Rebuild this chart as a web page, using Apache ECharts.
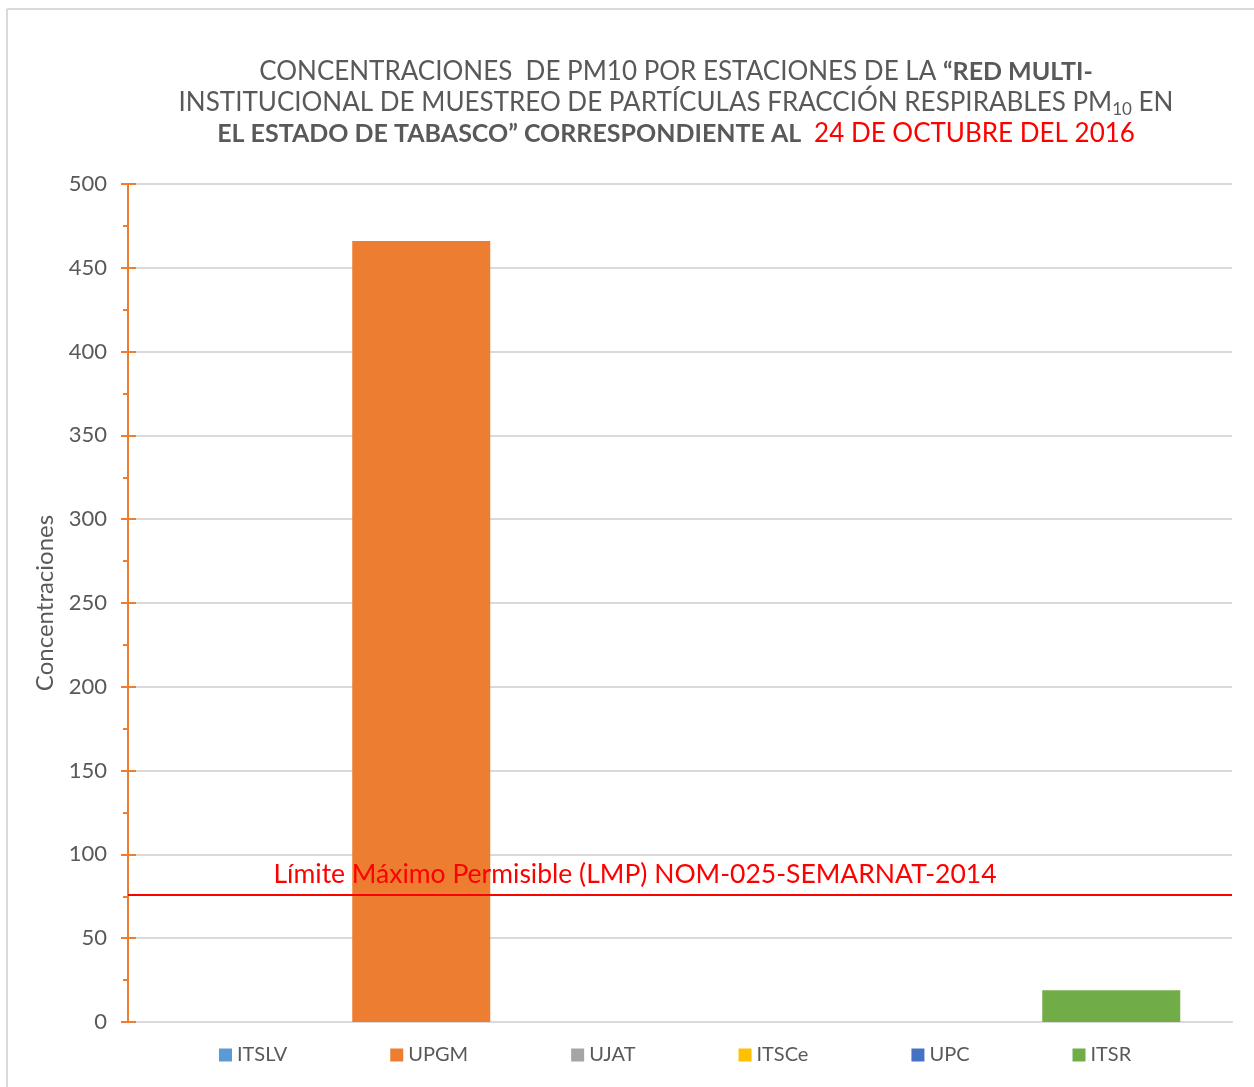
<!DOCTYPE html>
<html>
<head>
<meta charset="utf-8">
<style>
  html, body { margin: 0; padding: 0; background: #fff; }
  #chart { width: 1254px; height: 1087px; }
</style>
<script src="https://cdn.jsdelivr.net/npm/echarts@6/dist/echarts.min.js"></script>
</head>
<body>
<div id="chart"></div>
<script>
// estaciones y concentraciones PM10 (24 oct 2016)
const stations = ['ITSLV', 'UPGM', 'UJAT', 'ITSCe', 'UPC', 'ITSR']
const concentrations = [0, 466, 0, 0, 0, 19]
const stationColors = ['#5B9BD5', '#ED7D31', '#A5A5A5', '#FFC000', '#4472C4', '#70AD47']
const categories = ['24/10/2016']
const yMin = 0
const yMax = 500
const yStep = 50
const lmpValue = 76
const lmpLabel = 'Límite Máximo Permisible (LMP) NOM-025-SEMARNAT-2014'

const chart = echarts.init(document.getElementById('chart'))
const textColor = '#595959'
const font = 'Lato'

const series = stations.map((name, i) => {
  const s = {
    name: name,
    type: 'bar',
    yAxisIndex: 0,
    data: [concentrations[i]],
    barWidth: 138,
    barGap: '25%',
    itemStyle: { color: stationColors[i] },
    animation: false
  }
  if (i === 0) {
    s.markLine = {
      silent: true,
      symbol: 'none',
      lineStyle: { color: '#FF0000', width: 2, type: 'solid' },
      label: {
        show: true,
        position: 'insideMiddleTop',
        formatter: lmpLabel,
        color: '#FF0000',
        fontFamily: font,
        fontSize: 26.5,
        offset: [-45, -2]
      },
      data: [{ yAxis: lmpValue }]
    }
  }
  return s
})

const yBase = {
  type: 'value',
  min: yMin,
  max: yMax,
  interval: yStep,
  position: 'left'
}

chart.setOption({
  backgroundColor: '#fff',
  textStyle: { fontFamily: font },
  title: {
    left: 671,
    textAlign: 'center',
    top: 51,
    text: '{n|CONCENTRACIONES  DE PM10 POR ESTACIONES DE LA }{b|“RED MULTI-}\n' +
      '{n|INSTITUCIONAL DE MUESTREO DE PARTÍCULAS FRACCIÓN RESPIRABLES PM}{s|10}{n| EN}\n' +
      '{b|EL ESTADO DE TABASCO” CORRESPONDIENTE AL }{r| 24 DE OCTUBRE DEL 2016}',
    textStyle: {
      rich: {
        n: { fontFamily: font, fontSize: 26, fontWeight: 'normal', color: textColor, lineHeight: 31 },
        b: { fontFamily: font, fontSize: 25, fontWeight: 'bold', color: textColor, lineHeight: 31 },
        s: { fontFamily: font, fontSize: 17, fontWeight: 'normal', color: textColor, lineHeight: 31, padding: [15, 0, 0, 0] },
        r: { fontFamily: font, fontSize: 26, fontWeight: 'normal', color: '#FF0000', lineHeight: 31 }
      }
    }
  },
  legend: {
    bottom: 17,
    left: 214,
    icon: 'rect',
    itemWidth: 13,
    itemHeight: 13,
    itemGap: 103,
    textStyle: { color: textColor, fontSize: 20, fontFamily: font },
    data: stations
  },
  grid: { left: 128, right: 22, top: 184, bottom: 65 },
  xAxis: {
    type: 'category',
    data: categories,
    axisLine: { lineStyle: { color: '#D9D9D9', width: 2 } },
    axisTick: { show: false },
    axisLabel: { show: false }
  },
  yAxis: [
    Object.assign({}, yBase, {
      name: 'Concentraciones',
      nameLocation: 'middle',
      nameGap: 71,
      nameTextStyle: { color: textColor, fontSize: 24, fontFamily: font },
      axisLine: { show: true, lineStyle: { color: '#ED7D31', width: 2 } },
      axisTick: { show: true, inside: false, length: 7, lineStyle: { color: '#ED7D31', width: 2 } },
      minorTick: { show: true, splitNumber: 2, length: 5, lineStyle: { color: '#ED7D31', width: 2 } },
      axisLabel: { color: textColor, fontSize: 22, fontFamily: font, margin: 21 },
      splitLine: { lineStyle: { color: '#D9D9D9', width: 2 } }
    }),
    Object.assign({}, yBase, {
      axisLine: { show: true, lineStyle: { color: '#ED7D31', width: 2 } },
      axisTick: { show: true, inside: true, length: 8, lineStyle: { color: '#ED7D31', width: 2 } },
      axisLabel: { show: false },
      splitLine: { show: false }
    })
  ],
  graphic: [
    { type: 'line', shape: { x1: 7, y1: 9, x2: 1254, y2: 9 }, style: { stroke: '#D9D9D9', lineWidth: 2 } },
    { type: 'line', shape: { x1: 7, y1: 9, x2: 7, y2: 1087 }, style: { stroke: '#D9D9D9', lineWidth: 2 } }
  ],
  series: series
})
</script>
</body>
</html>
